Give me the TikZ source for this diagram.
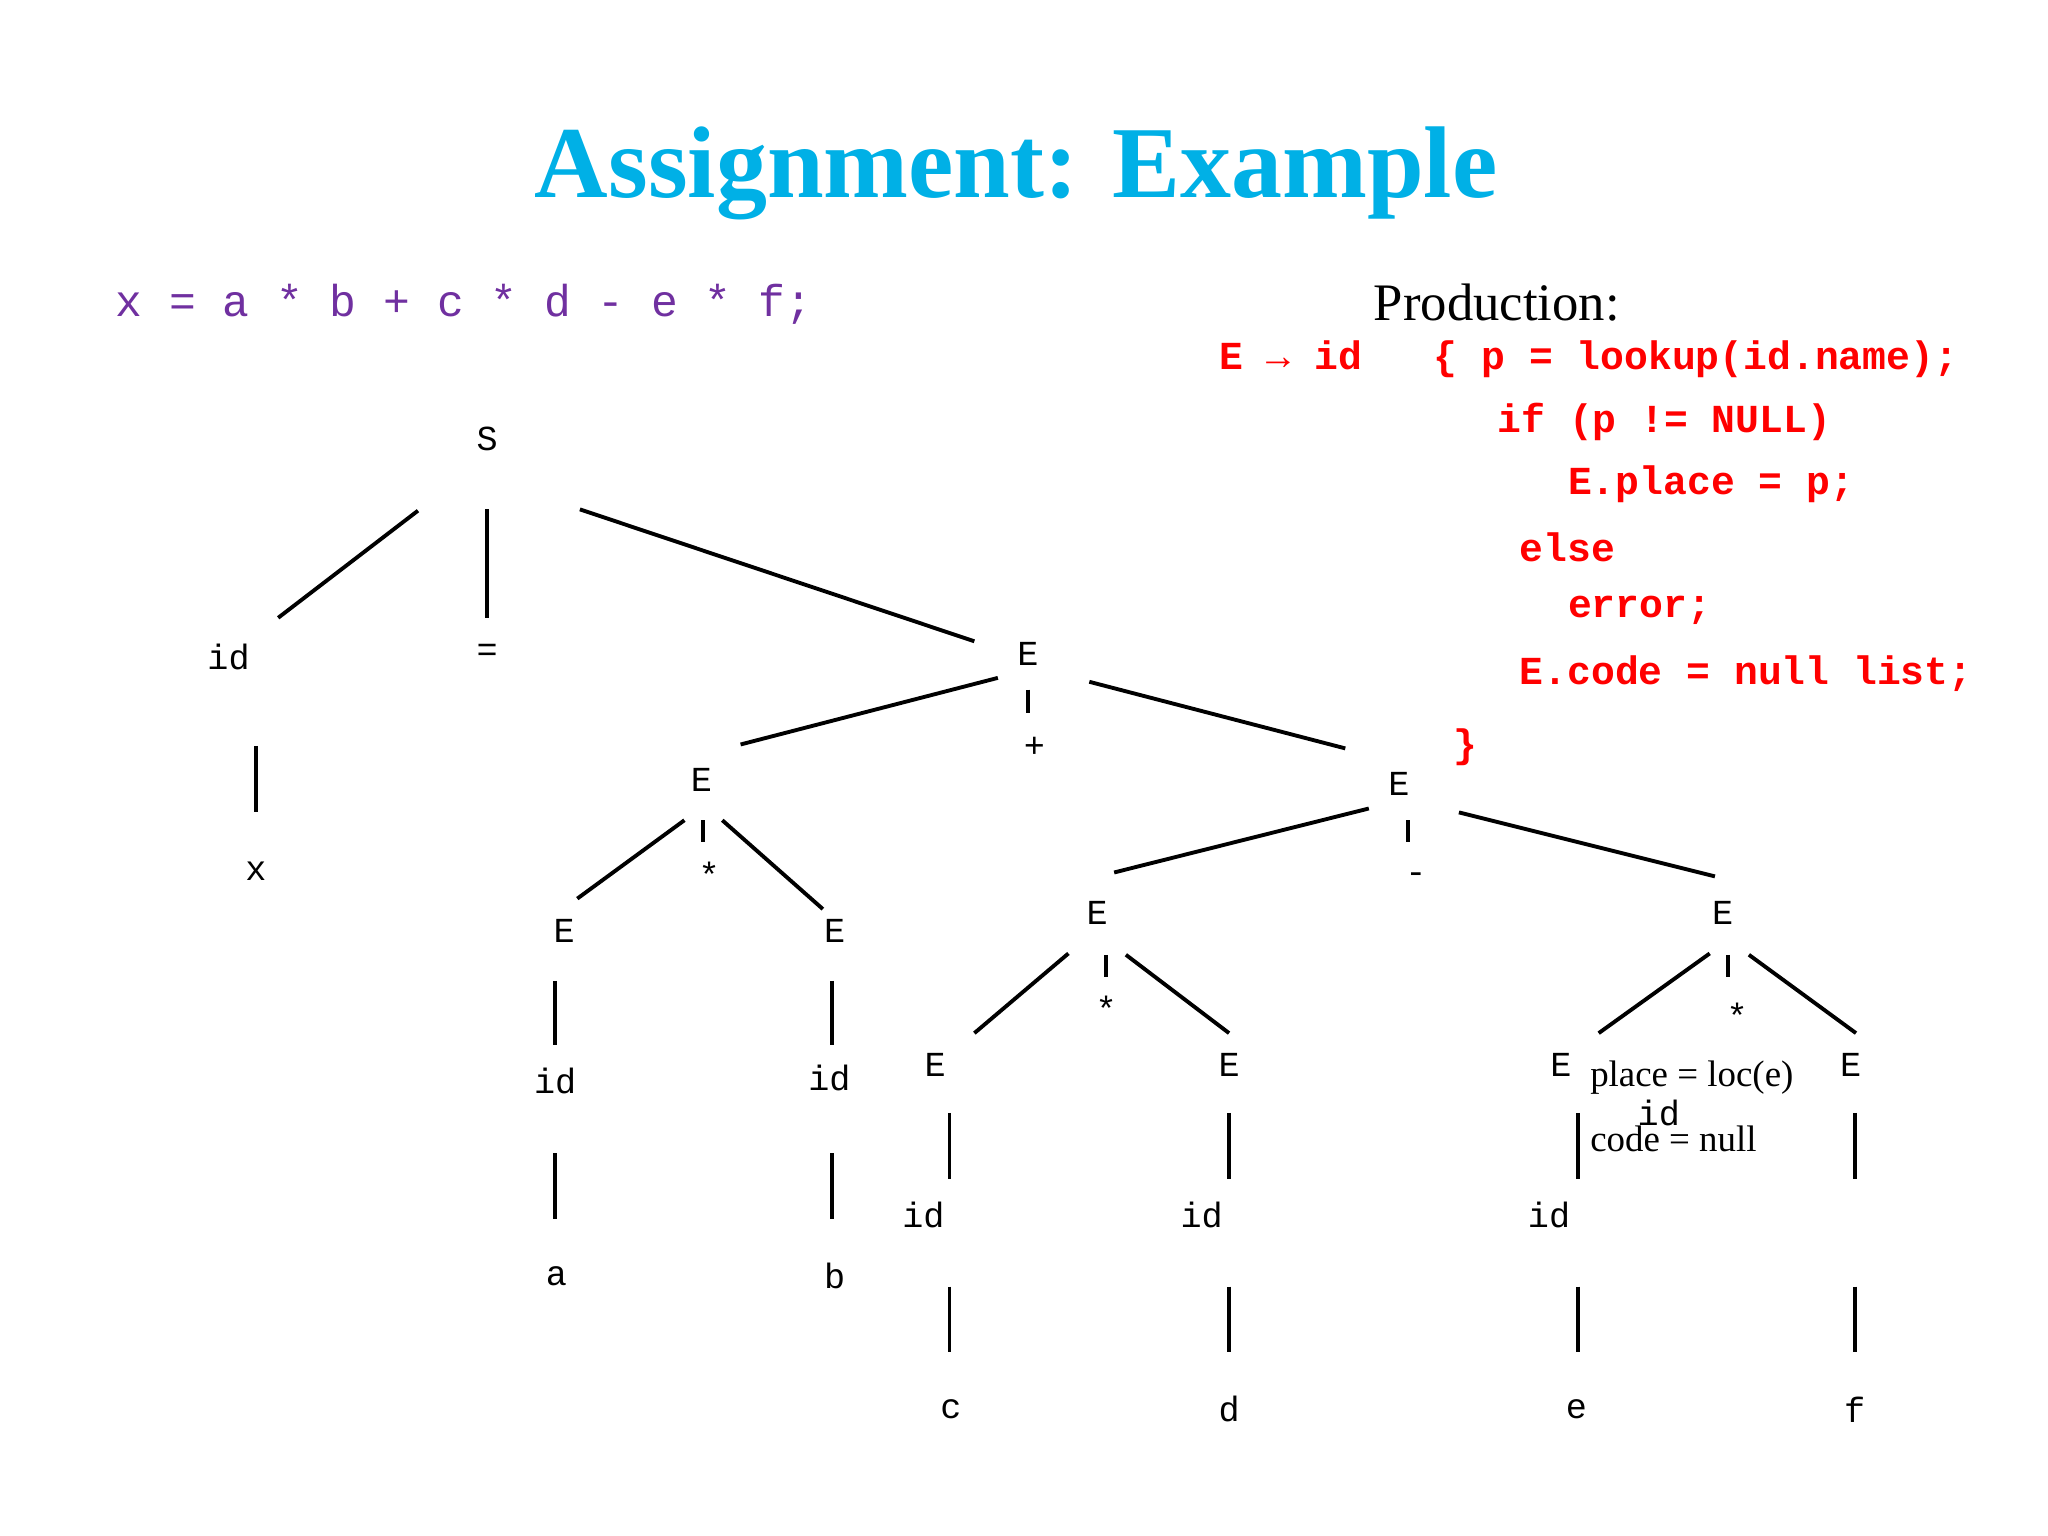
\documentclass[tikz,border=0pt]{standalone}
\usepackage{fontspec}
\setmainfont{Liberation Serif}
\setmonofont{Liberation Mono}
\begin{document}
\begin{tikzpicture}[x=0.01306cm,y=-0.01306cm,
  lab/.style={font=\ttfamily\fontsize{10}{12}\selectfont},
  ln/.style={line width=1.1pt},
  code/.style={font=\ttfamily\bfseries\fontsize{11.3}{14}\selectfont,text=red,anchor=west,inner sep=0}]
\useasboundingbox (0,0) rectangle (1568,1176);
\node (title) at (778,133) {\fontsize{29}{36}\selectfont\bfseries\color[RGB]{0,176,230}Assignment: Example};
\node[anchor=west,inner sep=0,font=\ttfamily\fontsize{12.7}{16}\selectfont,text={rgb,255:red,112;green,48;blue,160}] (expr) at (88,233) {x = a * b + c * d - e * f;};
\node[font=\fontsize{15}{18}\selectfont] (prod) at (1146,232) {Production:};
\node[code] (c1) at (933,275) {E \textrightarrow{} id \ \ \{ p = lookup(id.name);};
\node[code] (c2) at (1146,323) {if (p != NULL)};
\node[code] (c3) at (1200,371) {E.place = p;};
\node[code] (c4) at (1163,419) {else};
\node[code] (c5) at (1200,467) {error;};
\node[code] (c6) at (1163,516) {E.code = null list;};
\node[code] (c7) at (1112,572) {\}};
\foreach \n/\x/\y/\t in {S/373/336/S, id1/175/503/id, eq/373/500/=, E0/787/501/E, x/196/667/x,
 E1/537/597/E, plus/792/572/+, E2/1071/600/E, E3/432/713/E, st1/543/670/*, E4/639/713/E,
 id3/425/828/id, id4/635/825/id, a/426/977/a, b/639/977/b,
 E5/840/699/E, minus/1084/672/-, E6/1319/699/E, E7/716/815/E, st2/847/772/*, E8/941/815/E,
 E9/1195/815/E, st3/1330/778/*, E10/1417/815/E, id7/707/930/id, id8/920/930/id, id9/1186/930/id,
 idx/1270/852/id, c/728/1079/c, d/941/1079/d, e/1207/1079/e, f/1420/1079/f}
  \node[lab] (\n) at (\x,\y) {\t};
\node[font=\fontsize{10.5}{12}\selectfont,anchor=west,inner sep=0] (pl) at (1217,825) {place = loc(e)};
\node[font=\fontsize{10.5}{12}\selectfont,anchor=west,inner sep=0] (cd) at (1217,872) {code = null};
\foreach \a/\b/\c/\d in {320/391/213/473, 373/390/373/473, 444/390/746/491,
 196/571/196/622, 764/519/567/570, 787/528/787/546, 834/522/1030/573,
 524/628/442/688, 538/628/538/645, 553/628/630/696, 425/751/425/800, 637/751/637/800,
 425/883/425/933, 637/883/637/933,
 1048/619/853/668, 1078/628/1078/645, 1117/622/1313/671,
 818/730/746/791, 847/731/847/748, 862/731/941/791, 1309/730/1224/791, 1323/731/1323/748, 1339/731/1421/791,
 727/852/727/903, 941/852/941/903, 1208/852/1208/903, 1420/852/1420/903,
 727/985/727/1035, 941/985/941/1035, 1208/985/1208/1035, 1420/985/1420/1035}
  \draw[ln] (\a,\b) -- (\c,\d);
\end{tikzpicture}
\end{document}
